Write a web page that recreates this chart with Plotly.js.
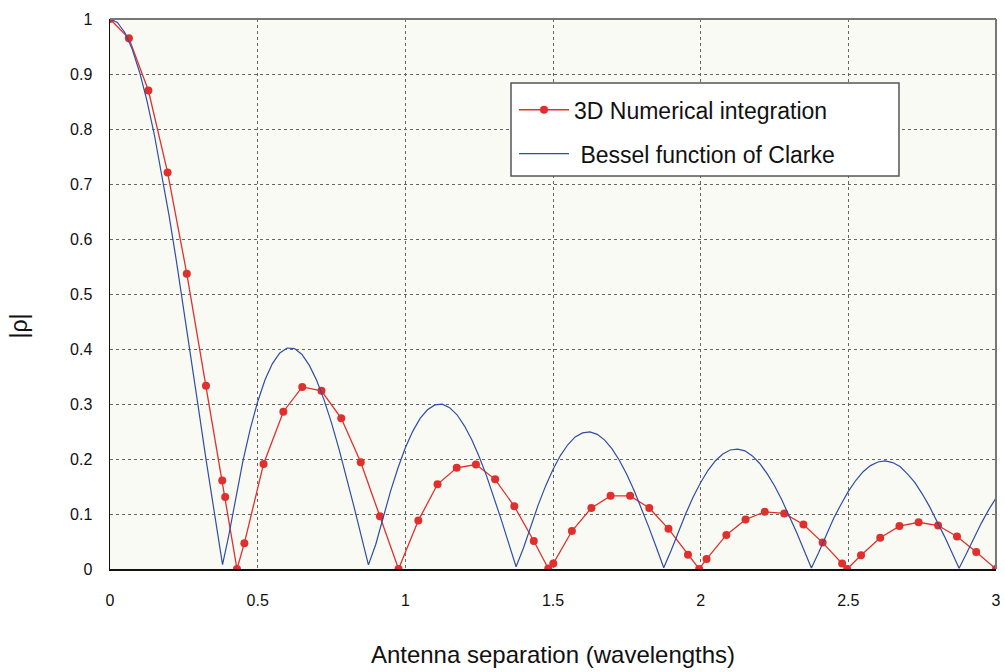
<!DOCTYPE html>
<html>
<head>
<meta charset="utf-8">
<script src="https://cdn.plot.ly/plotly-3.0.1.min.js"></script>
<style>html,body{margin:0;padding:0;background:#fff;}#chart{width:1005px;height:672px;}</style>
</head>
<body>
<div id="chart"></div>
<script>
// 3D numerical integration (red, with markers)
const numX = [0, 0.064, 0.130, 0.195, 0.260, 0.325, 0.380, 0.390, 0.430, 0.455, 0.520, 0.587, 0.651, 0.716, 0.783, 0.849, 0.914, 0.977, 1.044, 1.109, 1.174, 1.239, 1.304, 1.369, 1.435, 1.484, 1.501, 1.564, 1.630, 1.695, 1.761, 1.826, 1.891, 1.957, 1.995, 2.020, 2.087, 2.152, 2.217, 2.283, 2.348, 2.413, 2.479, 2.496, 2.543, 2.608, 2.673, 2.738, 2.804, 2.868, 2.933, 3.0];
const numY = [1.0, 0.965, 0.870, 0.721, 0.537, 0.333, 0.161, 0.131, 0.0, 0.047, 0.191, 0.286, 0.331, 0.324, 0.274, 0.194, 0.096, 0.0, 0.088, 0.154, 0.184, 0.190, 0.163, 0.114, 0.051, 0.001, 0.010, 0.069, 0.111, 0.133, 0.133, 0.111, 0.073, 0.026, 0.0, 0.018, 0.062, 0.090, 0.104, 0.101, 0.081, 0.048, 0.010, 0.0, 0.025, 0.057, 0.078, 0.085, 0.079, 0.059, 0.031, 0.0];

// Bessel function of Clarke (blue)
const besselX = [0, 0.025, 0.05, 0.075, 0.1, 0.125, 0.15, 0.175, 0.2, 0.225, 0.25, 0.275, 0.3, 0.325, 0.35, 0.375, 0.381, 0.4, 0.425, 0.45, 0.475,
  0.5, 0.525, 0.55, 0.575, 0.6, 0.625, 0.65, 0.675, 0.7, 0.725, 0.75, 0.775, 0.8, 0.825, 0.85, 0.875, 0.9, 0.925, 0.95, 0.975,
  1.0, 1.025, 1.05, 1.075, 1.1, 1.125, 1.15, 1.175, 1.2, 1.225, 1.25, 1.275, 1.3, 1.325, 1.35, 1.375, 1.4, 1.425, 1.45, 1.475,
  1.5, 1.525, 1.55, 1.575, 1.6, 1.625, 1.65, 1.675, 1.7, 1.725, 1.75, 1.775, 1.8, 1.825, 1.85, 1.875, 1.9, 1.925, 1.95, 1.975,
  2.0, 2.025, 2.05, 2.075, 2.1, 2.125, 2.15, 2.175, 2.2, 2.225, 2.25, 2.275, 2.3, 2.325, 2.35, 2.375, 2.4, 2.425, 2.45, 2.475,
  2.5, 2.525, 2.55, 2.575, 2.6, 2.625, 2.65, 2.675, 2.7, 2.725, 2.75, 2.775, 2.8, 2.825, 2.85, 2.875, 2.9, 2.925, 2.95, 2.975, 3.0];
const besselY = [1.000, 0.9938, 0.9755, 0.9453, 0.9037, 0.8516, 0.7900, 0.7198, 0.6425, 0.5594, 0.4720, 0.3819, 0.2906, 0.1997, 0.1109, 0.0255, 0.008, 0.0550, 0.1293, 0.1962, 0.2548,
  0.3042, 0.3440, 0.3735, 0.3929, 0.4018, 0.4007, 0.3901, 0.3702, 0.3426, 0.3071, 0.2657, 0.2190, 0.1688, 0.1158, 0.0617, 0.0075, 0.0450, 0.0953, 0.1417, 0.1837,
  0.2203, 0.2503, 0.2737, 0.2895, 0.2984, 0.2996, 0.2933, 0.2804, 0.2603, 0.2351, 0.2040, 0.1693, 0.1303, 0.0893, 0.0467, 0.0040, 0.0382, 0.0787, 0.1166, 0.1511,
  0.1811, 0.2063, 0.2259, 0.2401, 0.2475, 0.2494, 0.2449, 0.2344, 0.2183, 0.1974, 0.1719, 0.1423, 0.1104, 0.0752, 0.0390, 0.0024, 0.0338, 0.0685, 0.1012, 0.1313,
  0.1572, 0.1795, 0.1969, 0.2092, 0.2164, 0.2181, 0.2148, 0.2056, 0.1918, 0.1733, 0.1513, 0.1255, 0.0968, 0.0662, 0.0342, 0.0017, 0.0305, 0.0619, 0.0920, 0.1174,
  0.1412, 0.1609, 0.1769, 0.1880, 0.1945, 0.1964, 0.1935, 0.1862, 0.1731, 0.1575, 0.1367, 0.1134, 0.0876, 0.0598, 0.0308, 0.0013, 0.0280, 0.0563, 0.0830, 0.1075, 0.1291];

const xTicks = [0, 0.5, 1, 1.5, 2, 2.5, 3];
const xTickLabels = ["0", "0.5", "1", "1.5", "2", "2.5", "3"];
const yTicks = [0, 0.1, 0.2, 0.3, 0.4, 0.5, 0.6, 0.7, 0.8, 0.9, 1];
const yTickLabels = ["0", "0.1", "0.2", "0.3", "0.4", "0.5", "0.6", "0.7", "0.8", "0.9", "1"];
const seriesNames = ["3D Numerical integration", "Bessel function of Clarke"];
const xTitle = "Antenna separation (wavelengths)";
const yTitle = "|ρ|";

const traces = [
  {x: numX, y: numY, type: 'scatter', mode: 'lines+markers', name: seriesNames[0], legendgroup: 'a',
   line: {color: '#e0302e', width: 1.3}, marker: {color: '#e0302e', size: 8}},
  {x: besselX, y: besselY, type: 'scatter', mode: 'lines', name: '&nbsp;' + seriesNames[1], legendgroup: 'b',
   line: {color: '#2f4da3', width: 1.2}}
];

const tickFont = {family: 'Liberation Sans, Arial, sans-serif', size: 16, color: '#111'};
const yPad = '&nbsp;'.repeat(10);
const layout = {
  width: 1005, height: 672,
  margin: {l: 110, r: 9, t: 19, b: 103},
  paper_bgcolor: '#ffffff',
  plot_bgcolor: '#fafaf4',
  showlegend: true,
  legend: {x: 0.456, xanchor: 'left', y: 0.874, yanchor: 'top', bgcolor: 'rgba(0,0,0,0)', borderwidth: 0,
           font: {family: 'Liberation Sans, Arial, sans-serif', size: 23, color: '#111'},
           itemwidth: 50, tracegroupgap: 11, traceorder: 'grouped'},
  xaxis: {range: [0, 3], tickvals: xTicks, ticktext: xTickLabels, ticks: 'outside', ticklen: 16, tickcolor: 'rgba(0,0,0,0)',
          showline: true, linecolor: '#111', linewidth: 1.5, showgrid: true, gridcolor: '#666', griddash: 'dot', gridwidth: 1,
          zeroline: false, tickfont: tickFont,
          title: {text: xTitle, font: {family: 'Liberation Sans, Arial, sans-serif', size: 24, color: '#111'}, standoff: 38}},
  yaxis: {range: [0, 1], tickvals: yTicks, ticktext: yTickLabels, ticks: 'outside', ticklen: 13, tickcolor: 'rgba(0,0,0,0)',
          showline: true, linecolor: '#111', linewidth: 1.5, showgrid: true, gridcolor: '#666', griddash: 'dot', gridwidth: 1,
          zeroline: false, tickfont: tickFont,
          title: {text: yTitle + yPad, font: {family: 'Liberation Sans, Arial, sans-serif', size: 23, color: '#111'}, standoff: 36}},
  xaxis2: {overlaying: 'x', anchor: 'y', side: 'bottom', range: [0, 3], tickvals: xTicks, ticks: 'outside', ticklen: 6,
           tickcolor: '#111', showticklabels: false, showgrid: false, showline: false, zeroline: false},
  yaxis2: {overlaying: 'y', anchor: 'x', side: 'left', range: [0, 1], tickvals: yTicks, ticks: 'outside', ticklen: 6,
           tickcolor: '#111', showticklabels: false, showgrid: false, showline: false, zeroline: false},
  shapes: [
    {type: 'line', xref: 'paper', yref: 'paper', x0: 0, x1: 1, y0: 1, y1: 1, line: {color: '#777', width: 2}},
    {type: 'line', xref: 'paper', yref: 'paper', x0: 1, x1: 1, y0: 0, y1: 1, line: {color: '#777', width: 2}},
    {type: 'rect', xref: 'paper', yref: 'paper', x0: 0.4526, x1: 0.8905, y0: 0.7145, y1: 0.8836, layer: 'above',
     fillcolor: '#ffffff', line: {color: '#555', width: 1.5}}
  ]
};
Plotly.newPlot('chart', traces, layout, {displayModeBar: false, staticPlot: true});
</script>
</body>
</html>
